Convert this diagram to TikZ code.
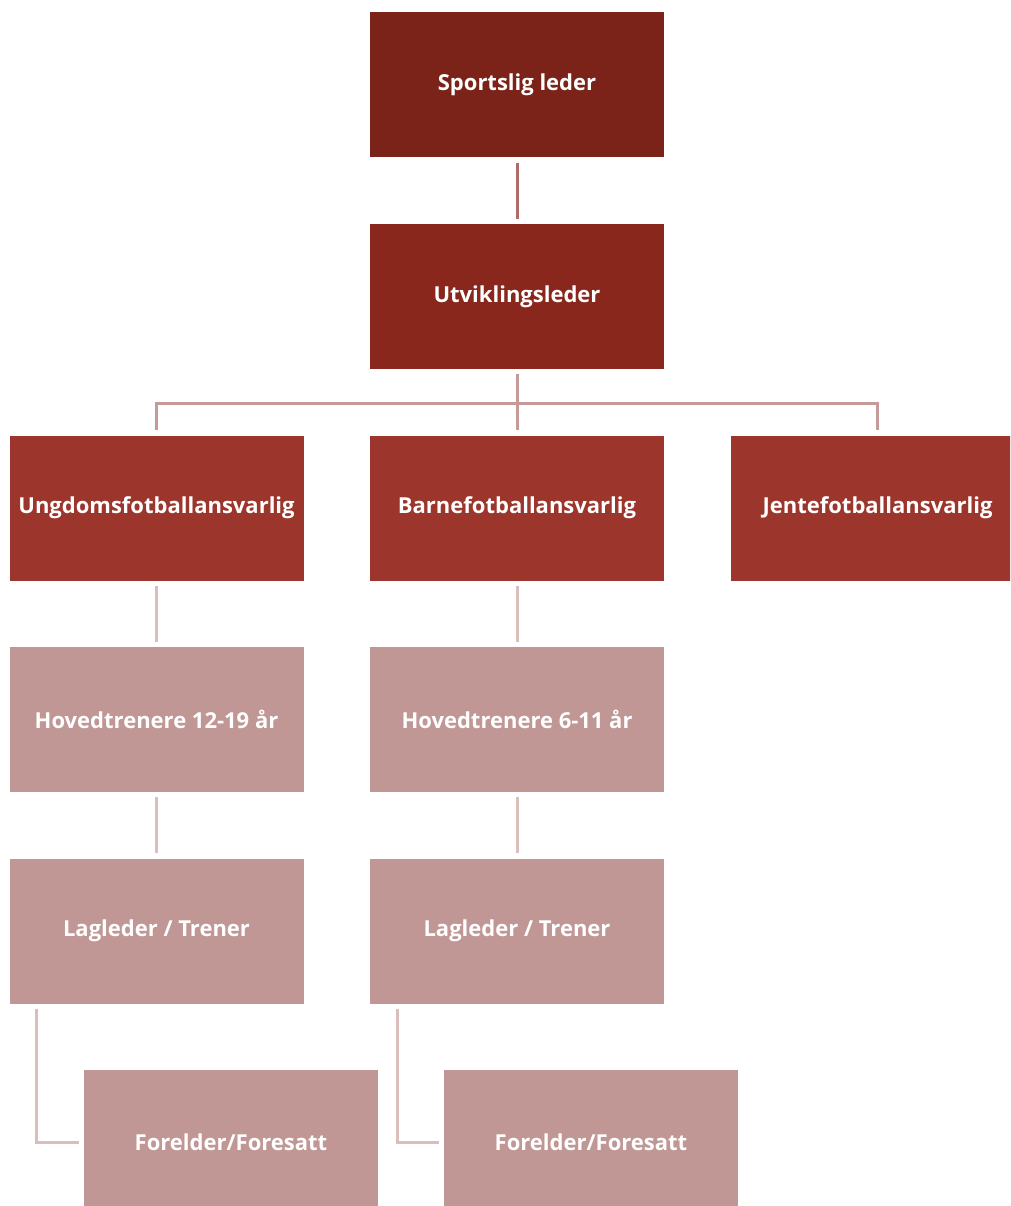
\documentclass[tikz,border=0pt]{standalone}
\usepackage{fontspec}
\setmainfont{Open Sans}
\usetikzlibrary{calc}
\definecolor{cTop}{HTML}{7B2318}
\definecolor{cTwo}{HTML}{8A271D}
\definecolor{cThree}{HTML}{9C352C}
\definecolor{cLight}{HTML}{C09794}
\definecolor{lnA}{HTML}{B06B68}
\definecolor{lnB}{HTML}{C69A98}
\definecolor{lnC}{HTML}{D9BEBC}
\tikzset{
  box/.style={rectangle, minimum width=294pt, minimum height=145pt, inner sep=0pt,
    text=white, font=\bfseries\fontsize{22}{26}\selectfont},
  conn/.style={line width=3pt, shorten <=5pt, shorten >=5pt},
}
\begin{document}
\begin{tikzpicture}[x=1pt,y=-1pt]
\useasboundingbox (0,0) rectangle (1010,1206);
\clip (0,0) rectangle (1010,1206);
\node[box, fill=cTop] (sl) at (517,85) {Sportslig leder};
\node[box, fill=cTwo] (ul) at (517,296.5) {Utviklingsleder};
\node[box, fill=cThree] (ung) at (156.5,508) {Ungdomsfotballansvarlig};
\node[box, fill=cThree] (bar) at (517,508) {Barnefotballansvarlig};
\node[box, fill=cThree] (jen) at (877.5,508) {Jentefotballansvarlig};
\node[box, fill=cLight] (hu) at (156.5,719.5) {Hovedtrenere 12-19 år};
\node[box, fill=cLight] (hb) at (517,719.5) {Hovedtrenere 6-11 år};
\node[box, fill=cLight] (lu) at (156.5,931) {Lagleder / Trener};
\node[box, fill=cLight] (lb) at (517,931) {Lagleder / Trener};
\node[box, fill=cLight] (fu) at (231,1142.5) {Forelder/Foresatt};
\node[box, fill=cLight] (fb) at (591,1142.5) {Forelder/Foresatt};

\draw[conn, lnA] (sl.south) -- (ul.north);
\draw[conn, lnB, shorten >=0pt] (ul.south) -- ++(0,34) coordinate (hub);
\draw[conn, lnB, shorten <=0pt] (hub) -| (ung.north);
\draw[conn, lnB, shorten <=0pt] (hub) -- (bar.north);
\draw[conn, lnB, shorten <=0pt] (hub) -| (jen.north);
\draw[conn, lnC] (ung.south) -- (hu.north);
\draw[conn, lnC] (bar.south) -- (hb.north);
\draw[conn, lnC] (hu.south) -- (lu.north);
\draw[conn, lnC] (hb.south) -- (lb.north);
\coordinate (lua) at ($(lu.south west)+(27,0)$);
\coordinate (lba) at ($(lb.south west)+(28,0)$);
\draw[conn, lnC] (lua) |- (fu.west);
\draw[conn, lnC] (lba) |- (fb.west);
\end{tikzpicture}
\end{document}
